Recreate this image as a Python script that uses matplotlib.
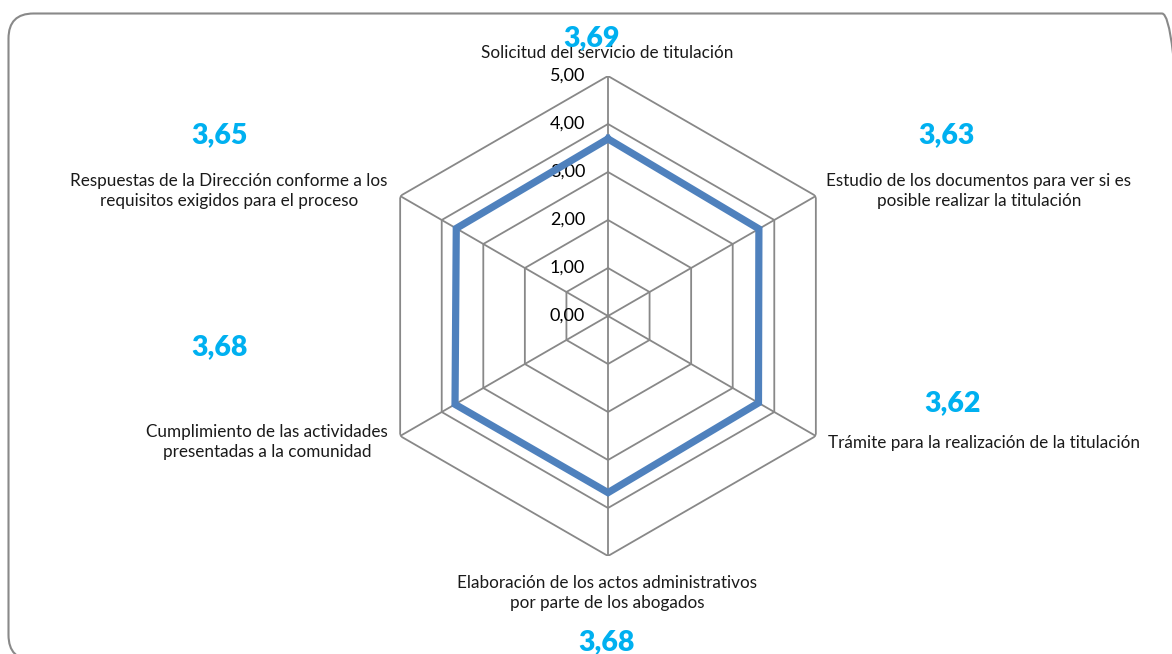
import numpy as np
import matplotlib.pyplot as plt
from matplotlib.patches import FancyBboxPatch
from matplotlib.transforms import IdentityTransform

plt.rcParams['font.family'] = ['Lato', 'DejaVu Sans']

categories = [
    'Solicitud del servicio de titulación',
    'Estudio de los documentos para ver si es\nposible realizar la titulación',
    'Trámite para la realización de la titulación',
    'Elaboración de los actos administrativos\npor parte de los abogados',
    'Cumplimiento de las actividades\npresentadas a la comunidad',
    'Respuestas de la Dirección conforme a los\nrequisitos exigidos para el proceso',
]
values = [3.69, 3.63, 3.62, 3.68, 3.68, 3.65]
ticks = [0, 1, 2, 3, 4, 5]

W, H = 1172, 654
fig = plt.figure(figsize=(W / 100, H / 100), dpi=100)

# rounded frame around the whole chart area (pixel coords)
frame = FancyBboxPatch((8.5, H - 660), 1187 - 8.5, 660 - 13.5,
                       boxstyle='round,pad=0,rounding_size=25',
                       transform=IdentityTransform(), fill=False,
                       edgecolor='#898989', linewidth=1.5)
fig.add_artist(frame)

cx, cy, R = 608, 316, 240
ax = fig.add_axes([(cx - R) / W, (H - cy - R) / H, 2 * R / W, 2 * R / H],
                  projection='polar')
ax.set_theta_offset(np.pi / 2)
ax.set_theta_direction(-1)
ax.set_ylim(0, 5)
ax.grid(False)
ax.set_xticks([])
ax.set_yticks([])
ax.spines['polar'].set_visible(False)
ax.patch.set_alpha(0)

n = len(categories)
angles = np.linspace(0, 2 * np.pi, n, endpoint=False)
closed = np.append(angles, angles[0])

grid_col = '#888888'
for t in ticks[1:]:
    ax.plot(closed, [t] * (n + 1), color=grid_col, lw=1.3, zorder=1)
for a in angles:
    ax.plot([a, a], [0, ticks[-1]], color=grid_col, lw=1.3, zorder=1)

for t in ticks:
    ax.annotate(f'{t:.2f}'.replace('.', ','), xy=(0, t), xytext=(-16.5, 0),
                textcoords='offset points', ha='right', va='center',
                fontsize=13, color='#000000')

ax.plot(closed, values + values[:1], color='#4F81BD', lw=5.2, zorder=3,
        solid_joinstyle='miter')

# category labels and value callouts (pixel positions)
label_pos = [(607, 53), (979, 191), (984, 443), (607, 593), (267, 442), (229, 191)]
value_pos = [(592, 38), (947, 135), (953, 403), (607, 642), (220, 347), (220, 135)]
for name, v, (lx, ly), (vx, vy) in zip(categories, values, label_pos, value_pos):
    fig.text(lx / W, 1 - ly / H, name, ha='center', va='center',
             fontsize=12.3, color='#1a1a1a', linespacing=1.25)
    fig.text(vx / W, 1 - vy / H, f'{v:.2f}'.replace('.', ','), ha='center',
             va='center', fontsize=20.5, fontweight='heavy', color='#00B0F0')

fig.savefig('out.png', dpi=100)
